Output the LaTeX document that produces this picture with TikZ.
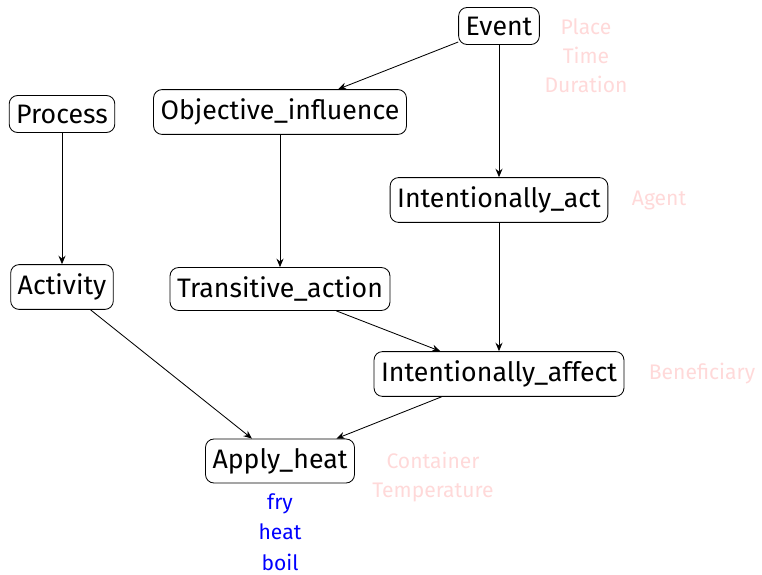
\documentclass[tikz,border=0pt]{standalone}
\usepackage{fontspec}
\setmainfont{Fira Sans}
\usetikzlibrary{arrows.meta}
\tikzset{frame/.style={draw,line width=0.6pt,rounded corners=6pt,inner xsep=5pt,inner ysep=6.5pt,
    font=\fontsize{19}{22}\selectfont}}
\tikzset{role/.style={text=red!15,align=center,font=\fontsize{15}{20.5}\selectfont}}
\tikzset{lex/.style={text=blue,align=center,inner sep=0pt,font=\fontsize{15}{21.5}\selectfont}}
\tikzset{link/.style={line width=0.6pt,-{Stealth[length=6pt,width=5pt,inset=2pt]}}}

\begin{document}
\begin{tikzpicture}
  \useasboundingbox (0,0) rectangle (19.05,-14.375);
  % frames
  \node[frame] (event) at (12.475,-0.65) {Event};
  \node[frame] (process) at (1.55,-2.85) {Process};
  \node[frame] (objinf) at (7.0,-2.8) {Objective\_influence};
  \node[frame] (intact) at (12.475,-5.0) {Intentionally\_act};
  \node[frame] (activity) at (1.55,-7.175) {Activity};
  \node[frame] (transact) at (7.0,-7.225) {Transitive\_action};
  \node[frame] (intaff) at (12.475,-9.35) {Intentionally\_affect};
  \node[frame] (applyheat) at (7.0,-11.525) {Apply\_heat};
  % roles
  \node[role] (eventroles) at (14.65,-1.4) {Place\\Time\\Duration};
  \node[role] (actroles) at (16.475,-5.0) {Agent};
  \node[role] (affroles) at (17.55,-9.35) {Beneficiary};
  \node[role] (heatroles) at (10.825,-11.925) {Container\\Temperature};
  % lexical units
  \node[lex] (lexunits) at (7.0,-13.3) {fry\\heat\\boil};
  % inheritance
  \draw[link] (event) -- (objinf);
  \draw[link] (event) -- (intact);
  \draw[link] (process) -- (activity);
  \draw[link] (objinf) -- (transact);
  \draw[link] (intact) -- (intaff);
  \draw[link] (transact) -- (intaff);
  \draw[link] (activity) -- (applyheat);
  \draw[link] (intaff) -- (applyheat);
\end{tikzpicture}
\end{document}
